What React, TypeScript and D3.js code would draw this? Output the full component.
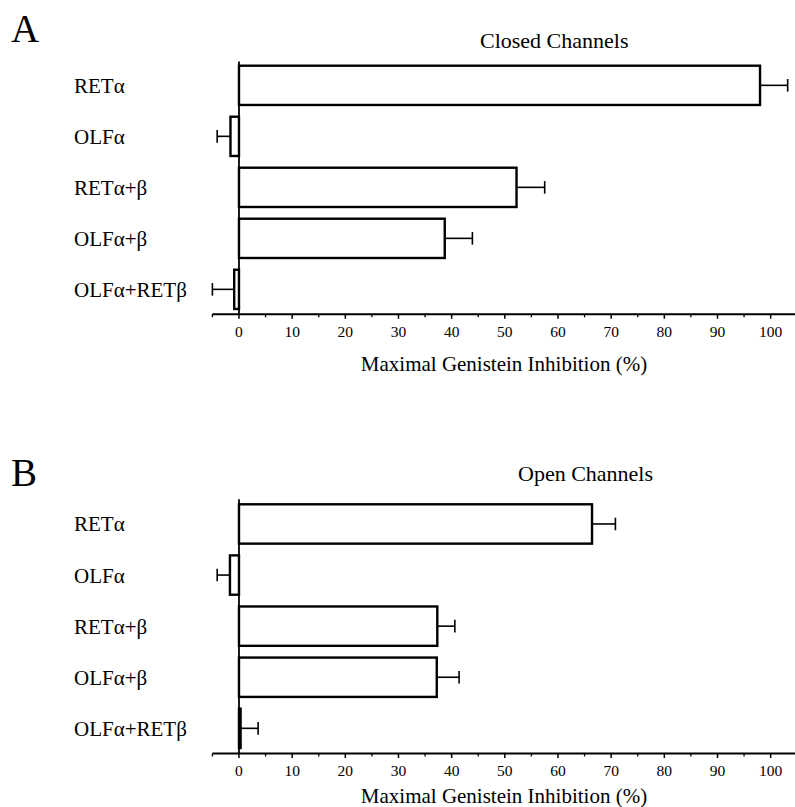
import React from "react";
import * as d3 from "d3";

const categories = ["RETα", "OLFα", "RETα+β", "OLFα+β", "OLFα+RETβ"];
const closedValues = [98.0, -1.6, 52.2, 38.7, -0.9];
const closedErrors = [5.2, 2.5, 5.3, 5.2, 4.1];
const openValues = [66.4, -1.7, 37.3, 37.2, 0.3];
const openErrors = [4.4, 2.4, 3.3, 4.2, 3.3];
const majorTicks = [0, 10, 20, 30, 40, 50, 60, 70, 80, 90, 100];
const minorTicks = [-5, 5, 15, 25, 35, 45, 55, 65, 75, 85, 95];
const axisTitle = "Maximal Genistein Inhibition (%)";

const FONT = "'Liberation Serif', 'Times New Roman', 'DejaVu Serif', serif";

const x = d3.scaleLinear().domain([-5, 105.5]).range([212.4, 799.9]);

type PanelProps = {
  letter: string;
  title: string;
  values: number[];
  errors: number[];
  letterY: number;
  titleX: number;
  titleY: number;
  axisTop: number;
  axisY: number;
  axisTitleY: number;
  bandTop: number;
  bandBottom: number;
};

function Panel(p: PanelProps) {
  const y = d3
    .scaleBand<string>()
    .domain(categories)
    .range([p.bandTop, p.bandBottom])
    .paddingInner(0.23)
    .paddingOuter(0);
  const bw = y.bandwidth();
  const x0 = x(0);
  return (
    <g>
      <text x={11} y={p.letterY} fontFamily={FONT} fontSize={39}>
        {p.letter}
      </text>
      <text x={p.titleX} y={p.titleY} fontFamily={FONT} fontSize={22}>
        {p.title}
      </text>
      {categories.map((c) => (
        <text
          key={c}
          x={74}
          y={(y(c) as number) + bw / 2 + 7.5}
          fontFamily={FONT}
          fontSize={21}
        >
          {c}
        </text>
      ))}
      {/* error bars */}
      {categories.map((c, i) => {
        const v = p.values[i];
        const e = p.errors[i];
        const end = v >= 0 ? v + e : v - e;
        const cy = (y(c) as number) + bw / 2;
        return (
          <g key={"e" + c} stroke="#000" strokeWidth={1.6}>
            <line x1={x(v)} x2={x(end)} y1={cy} y2={cy} />
            <line x1={x(end)} x2={x(end)} y1={cy - 6.3} y2={cy + 6.3} />
          </g>
        );
      })}
      {/* bars */}
      {categories.map((c, i) => {
        const v = p.values[i];
        const xa = Math.min(x(v), x0);
        const w = Math.abs(x(v) - x0);
        return (
          <rect
            key={"b" + c}
            x={xa}
            y={y(c) as number}
            width={w}
            height={bw}
            fill="#fff"
            stroke="#000"
            strokeWidth={2.4}
          />
        );
      })}
      {/* vertical axis */}
      <line x1={x0} x2={x0} y1={p.axisTop} y2={p.axisY} stroke="#000" strokeWidth={1.8} />
      {/* horizontal axis */}
      <line x1={x(-5)} x2={x(105.5)} y1={p.axisY} y2={p.axisY} stroke="#000" strokeWidth={2} />
      {majorTicks.map((t) => (
        <g key={"t" + t}>
          <line x1={x(t)} x2={x(t)} y1={p.axisY} y2={p.axisY + 4.5} stroke="#000" strokeWidth={1.5} />
          <text
            x={x(t)}
            y={p.axisY + 22.5}
            textAnchor="middle"
            fontFamily={FONT}
            fontSize={15.5}
          >
            {t}
          </text>
        </g>
      ))}
      {minorTicks.map((t) => (
        <line key={"m" + t} x1={x(t)} x2={x(t)} y1={p.axisY} y2={p.axisY + 3} stroke="#000" strokeWidth={1.3} />
      ))}
      <text
        x={504}
        y={p.axisTitleY}
        textAnchor="middle"
        fontFamily={FONT}
        fontSize={21}
      >
        {axisTitle}
      </text>
    </g>
  );
}

export default function App() {
  return (
    <svg
      width={795}
      height={807}
      style={{ position: "absolute", left: 0, top: 0, background: "#fff" }}
    >
      <rect x={0} y={0} width={795} height={807} fill="#fff" />
      <Panel
        letter="A"
        title="Closed Channels"
        values={closedValues}
        errors={closedErrors}
        letterY={42}
        titleX={480}
        titleY={48}
        axisTop={61.5}
        axisY={314.3}
        axisTitleY={371}
        bandTop={65.7}
        bandBottom={309}
      />
      <Panel
        letter="B"
        title="Open Channels"
        values={openValues}
        errors={openErrors}
        letterY={486}
        titleX={518}
        titleY={480.7}
        axisTop={499.3}
        axisY={753.5}
        axisTitleY={803}
        bandTop={504.3}
        bandBottom={748}
      />
    </svg>
  );
}
